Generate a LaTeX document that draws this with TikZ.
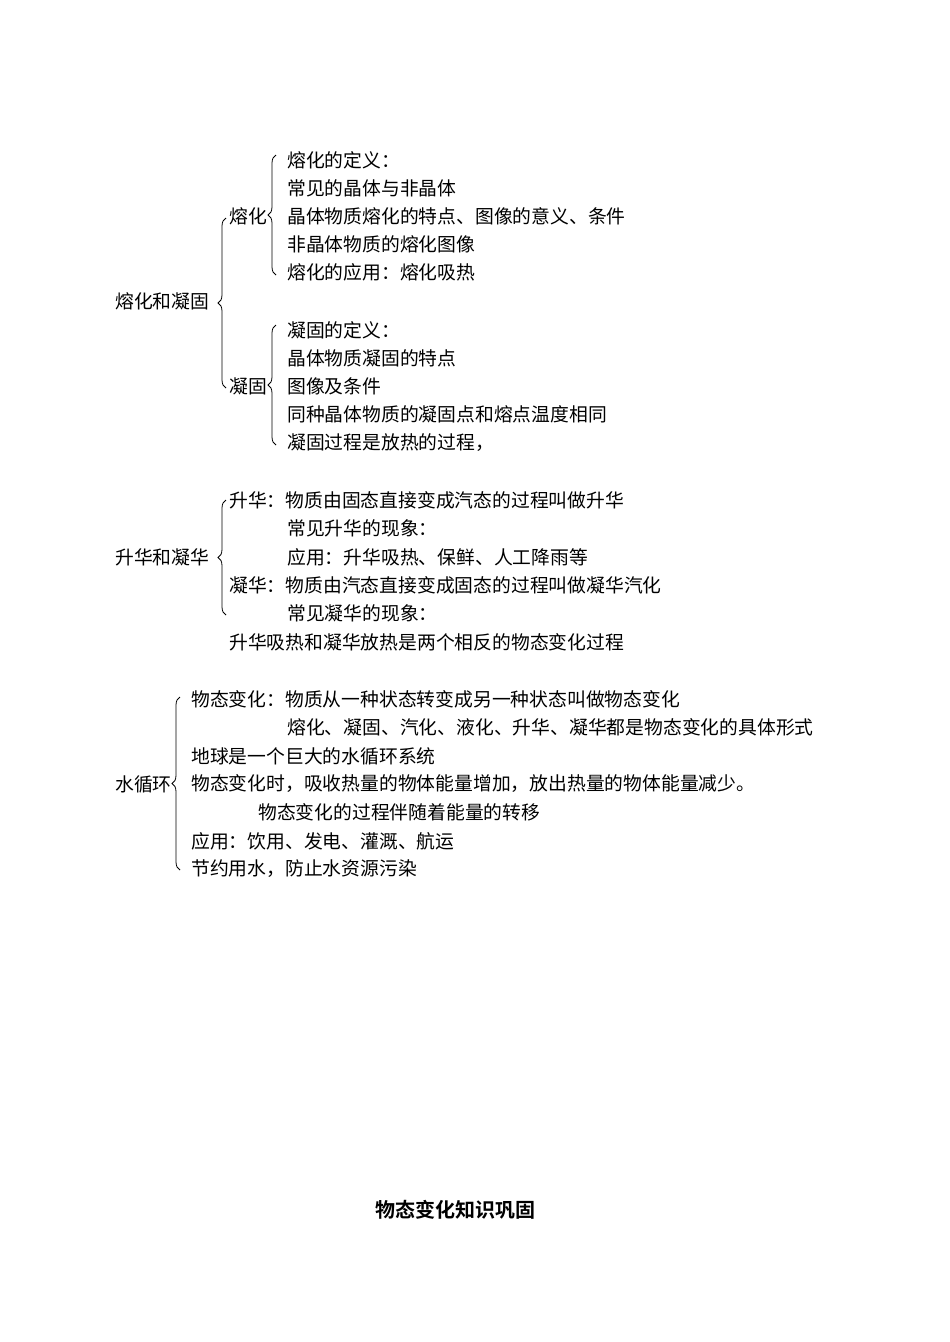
\documentclass[tikz,border=0pt]{standalone}
\usepackage{fontspec}
\setmainfont{Noto Sans CJK SC}[BoldFont={* Bold}]
\usetikzlibrary{decorations.pathreplacing}
\begin{document}
\begin{tikzpicture}[x=1pt,y=-1pt,
  t/.style={anchor=west,inner sep=0pt,font=\fontsize{18.8}{20}\selectfont},
  br/.style={decorate,decoration={brace,amplitude=8pt},line width=0.8pt}]
\useasboundingbox (0,0) rectangle (950,1342);
\node[t] (a1) at (287,160) {熔化的定义：};
\node[t] (a2) at (287,188) {常见的晶体与非晶体};
\node[t] (a3) at (287,216) {晶体物质熔化的特点、图像的意义、条件};
\node[t] (a4) at (287,244) {非晶体物质的熔化图像};
\node[t] (a5) at (287,272) {熔化的应用：熔化吸热};
\node[t] (m0) at (115,301) {熔化和凝固};
\node[t] (m1) at (229,216) {熔化};
\node[t] (b1) at (287,330) {凝固的定义：};
\node[t] (b2) at (287,358) {晶体物质凝固的特点};
\node[t] (b3) at (287,386) {图像及条件};
\node[t] (b4) at (287,414) {同种晶体物质的凝固点和熔点温度相同};
\node[t] (b5) at (287,443) {凝固过程是放热的过程，};
\node[t] (m2) at (229,386) {凝固};
\node[t] (c1) at (229,500) {升华：物质由固态直接变成汽态的过程叫做升华};
\node[t] (c2) at (287,528) {常见升华的现象：};
\node[t] (c3) at (287,557) {应用：升华吸热、保鲜、人工降雨等};
\node[t] (c4) at (229,585) {凝华：物质由汽态直接变成固态的过程叫做凝华汽化};
\node[t] (c5) at (287,613) {常见凝华的现象：};
\node[t] (c6) at (229,642) {升华吸热和凝华放热是两个相反的物态变化过程};
\node[t] (m3) at (115,557) {升华和凝华};
\node[t] (d1) at (191,699) {物态变化：物质从一种状态转变成另一种状态叫做物态变化};
\node[t] (d2) at (287,727) {熔化、凝固、汽化、液化、升华、凝华都是物态变化的具体形式};
\node[t] (d3) at (191,756) {地球是一个巨大的水循环系统};
\node[t] (d4) at (191,784) {物态变化时，吸收热量的物体能量增加，放出热量的物体能量减少。};
\node[t] (d5) at (258,812) {物态变化的过程伴随着能量的转移};
\node[t] (d6) at (191,841) {应用：饮用、发电、灌溉、航运};
\node[t] (d7) at (191,869) {节约用水，防止水资源污染};
\node[t] (m4) at (115,784) {水循环};
\node[anchor=center,inner sep=0pt,font=\fontsize{20}{22}\selectfont\bfseries] (title) at (455,1210) {物态变化知识巩固};
\draw[br] (276,275) -- (276,155);
\draw[br] (226,388) -- (226,218);
\draw[br] (276,445) -- (276,325);
\draw[br] (226,615) -- (226,500);
\draw[br] (180,870) -- (180,697);
\end{tikzpicture}
\end{document}
